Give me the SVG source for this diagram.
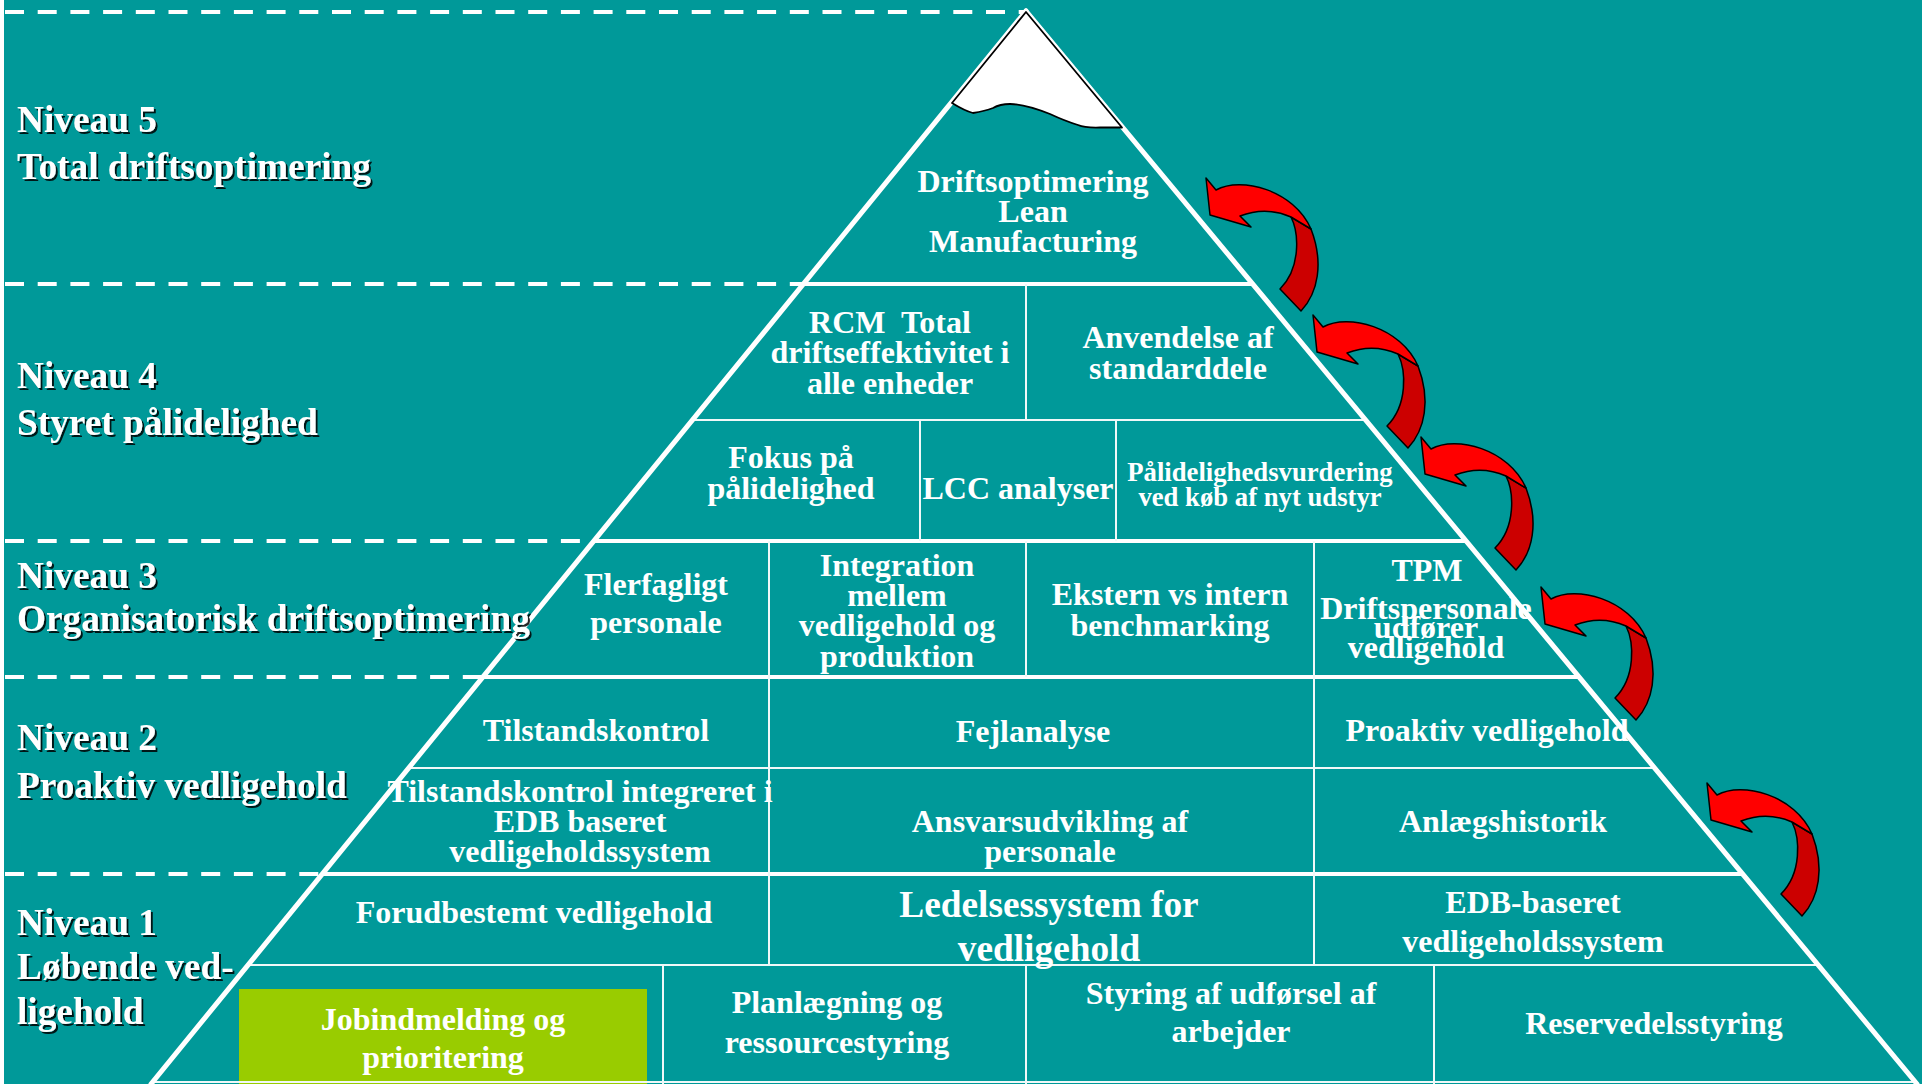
<svg xmlns="http://www.w3.org/2000/svg" width="1922" height="1084" viewBox="0 0 1922 1084">
<defs>
<style>
.lbl{font-family:"Liberation Serif","Times New Roman",serif;font-weight:bold;font-size:37.3px;fill:#fff;filter:url(#sh)}
.t{font-family:"Liberation Serif","Times New Roman",serif;font-weight:bold;font-size:32px;fill:#fff;text-anchor:middle}
.t20{font-size:26.7px}
.t28{font-size:37.3px}
.dash{stroke:#fff;stroke-width:4;stroke-dasharray:19 13.7;fill:none}
.lvl{stroke:#fff;stroke-width:4}
.thin{stroke:#f0f8f8;stroke-width:2}
.edge{stroke:#fff;stroke-width:5;stroke-linecap:round}
</style>
<filter id="sh" x="-5%" y="-20%" width="110%" height="140%"><feDropShadow dx="2" dy="2" stdDeviation="0.6" flood-color="#000" flood-opacity="0.85"/></filter>
<g id="arrow">
<path d="M85,39 C93,55 95,90 74,111 L95,133 C112,115 118,85 105,51 Z" fill="#CC0000" stroke="#000" stroke-width="1.5" stroke-linejoin="round"/>
<path d="M0,0 L10,12 C35,-2 88,12 105,51 L85,39 Q60,28 34,38 L45,49 L4,37 Z" fill="#FF0000" stroke="#000" stroke-width="1.5" stroke-linejoin="round"/>
</g>
</defs>
<rect x="0" y="0" width="1922" height="1084" fill="#009999"/>
<rect x="0" y="0" width="4" height="1084" fill="#ffffff"/>
<rect id="green-cell" x="239" y="989" width="408" height="95" fill="#99CC00"/>
<g id="grid">
<line class="dash" x1="5" y1="12" x2="1026" y2="12"/>
<line class="dash" x1="5" y1="284" x2="803" y2="284"/>
<line class="dash" x1="5" y1="541" x2="594" y2="541"/>
<line class="dash" x1="5" y1="677" x2="483" y2="677"/>
<line class="dash" x1="5" y1="874" x2="322" y2="874"/>
<line class="lvl" x1="803" y1="284" x2="1253" y2="284"/>
<line class="lvl" x1="594" y1="541" x2="1466" y2="541"/>
<line class="lvl" x1="483" y1="677" x2="1579" y2="677"/>
<line class="lvl" x1="322" y1="874" x2="1743" y2="874"/>
<line class="thin" x1="692" y1="420" x2="1366" y2="420"/>
<line class="thin" x1="409" y1="768" x2="1655" y2="768"/>
<line class="thin" x1="248" y1="965" x2="1818" y2="965"/>
<line class="thin" x1="153" y1="1082" x2="1915" y2="1082"/>
<line class="thin" x1="1026" y1="284" x2="1026" y2="420"/>
<line class="thin" x1="920" y1="420" x2="920" y2="541"/>
<line class="thin" x1="1116" y1="420" x2="1116" y2="541"/>
<line class="thin" x1="769" y1="541" x2="769" y2="965"/>
<line class="thin" x1="1026" y1="541" x2="1026" y2="677"/>
<line class="thin" x1="1314" y1="541" x2="1314" y2="965"/>
<line class="thin" x1="663" y1="965" x2="663" y2="1084"/>
<line class="thin" x1="1026" y1="965" x2="1026" y2="1084"/>
<line class="thin" x1="1434" y1="965" x2="1434" y2="1084"/>
<line class="edge" x1="1026" y1="11" x2="151" y2="1084"/>
<line class="edge" x1="1026" y1="11" x2="1917" y2="1084"/>
</g>
<path id="snowcap" d="M1026,12 L952,103 Q965,111 973,113 Q985,111 993,108 Q1000,104 1010,104 Q1025,104 1050,114 Q1065,121 1078,125 Q1085,128 1100,127.5 L1122,127.5 Z" fill="#fff" stroke="#000" stroke-width="1.8" stroke-linejoin="round"/>
<g id="level-labels">
<text class="lbl" x="17" y="132">Niveau 5</text>
<text class="lbl" x="17" y="179">Total driftsoptimering</text>
<text class="lbl" x="17" y="388">Niveau 4</text>
<text class="lbl" x="17" y="435">Styret pålidelighed</text>
<text class="lbl" x="17" y="588">Niveau 3</text>
<text class="lbl" x="17" y="631">Organisatorisk driftsoptimering</text>
<text class="lbl" x="17" y="750">Niveau 2</text>
<text class="lbl" x="17" y="798">Proaktiv vedligehold</text>
<text class="lbl" x="17" y="935">Niveau 1</text>
<text class="lbl" x="17" y="979">Løbende ved-</text>
<text class="lbl" x="17" y="1024">ligehold</text>
</g>
<g id="n5"><text class="t" x="1033" y="192">Driftsoptimering</text><text class="t" x="1033" y="222">Lean</text><text class="t" x="1033" y="252">Manufacturing</text></g>
<g id="n4-rcm"><text class="t" x="890" y="333" xml:space="preserve">RCM  Total</text><text class="t" x="890" y="363">driftseffektivitet i</text><text class="t" x="890" y="394">alle enheder</text></g>
<g id="n4-std"><text class="t" x="1178" y="348">Anvendelse af</text><text class="t" x="1178" y="379">standarddele</text></g>
<g id="n4-fokus"><text class="t" x="791" y="468">Fokus på</text><text class="t" x="791" y="499">pålidelighed</text></g>
<g id="n4-lcc"><text class="t" x="1018" y="499">LCC analyser</text></g>
<g id="n4-vurd"><text class="t t20" x="1260" y="481">Pålidelighedsvurdering</text><text class="t t20" x="1260" y="506">ved køb af nyt udstyr</text></g>
<g id="n3-fler"><text class="t" x="656" y="595">Flerfagligt</text><text class="t" x="656" y="633">personale</text></g>
<g id="n3-int"><text class="t" x="897" y="576">Integration</text><text class="t" x="897" y="606">mellem</text><text class="t" x="897" y="636">vedligehold og</text><text class="t" x="897" y="667">produktion</text></g>
<g id="n3-bench"><text class="t" x="1170" y="605">Ekstern vs intern</text><text class="t" x="1170" y="636">benchmarking</text></g>
<g id="n3-tpm"><text class="t" x="1427" y="581">TPM</text><text class="t" x="1426" y="619">Driftspersonale</text><text class="t" x="1426" y="638">udfører</text><text class="t" x="1426" y="658">vedligehold</text></g>
<g id="n2-tilst"><text class="t" x="596" y="741">Tilstandskontrol</text></g>
<g id="n2-fejl"><text class="t" x="1033" y="742">Fejlanalyse</text></g>
<g id="n2-proaktiv"><text class="t" x="1487" y="741">Proaktiv vedligehold</text></g>
<g id="n2-tilst-edb"><text class="t" x="580" y="802">Tilstandskontrol integreret i</text><text class="t" x="580" y="832">EDB baseret</text><text class="t" x="580" y="862">vedligeholdssystem</text></g>
<g id="n2-ansvar"><text class="t" x="1050" y="832">Ansvarsudvikling af</text><text class="t" x="1050" y="862">personale</text></g>
<g id="n2-anlaeg"><text class="t" x="1503" y="832">Anlægshistorik</text></g>
<g id="n1-forud"><text class="t" x="534" y="923">Forudbestemt vedligehold</text></g>
<g id="n1-ledelse"><text class="t t28" x="1049" y="917">Ledelsessystem for</text><text class="t t28" x="1049" y="961">vedligehold</text></g>
<g id="n1-edb"><text class="t" x="1533" y="913">EDB-baseret</text><text class="t" x="1533" y="952">vedligeholdssystem</text></g>
<g id="n1-job"><text class="t" x="443" y="1030">Jobindmelding og</text><text class="t" x="443" y="1068">prioritering</text></g>
<g id="n1-plan"><text class="t" x="837" y="1013">Planlægning og</text><text class="t" x="837" y="1053">ressourcestyring</text></g>
<g id="n1-styring"><text class="t" x="1231" y="1004">Styring af udførsel af</text><text class="t" x="1231" y="1042">arbejder</text></g>
<g id="n1-reserve"><text class="t" x="1654" y="1034">Reservedelsstyring</text></g>
<g id="connectors">
<use href="#arrow" transform="translate(1206,178)"/>
<use href="#arrow" transform="translate(1313,315)"/>
<use href="#arrow" transform="translate(1421,437)"/>
<use href="#arrow" transform="translate(1541,587)"/>
<use href="#arrow" transform="translate(1707,783)"/>
</g>
</svg>
